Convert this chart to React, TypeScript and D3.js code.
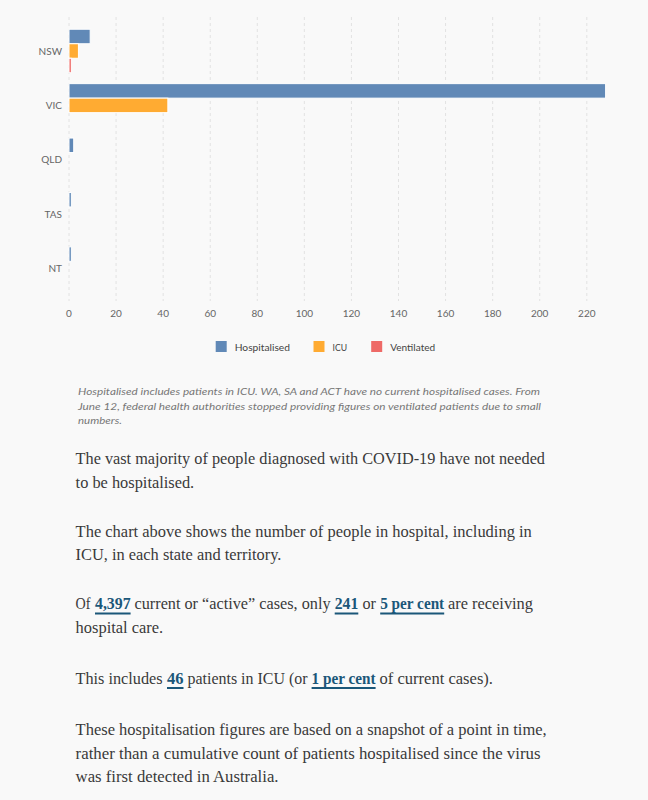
import React from "react";
import * as d3 from "d3";

const states = ["NSW", "VIC", "QLD", "TAS", "NT"];
const seriesNames = ["Hospitalised", "ICU", "Ventilated"];
const hospitalised = [9, 228, 2, 1, 1];
const icu = [4, 42, 0, 0, 0];
const ventilated = [1, 0, 0, 0, 0];
const seriesColors = ["#6189b7", "#ffab32", "#ee6a67"];
const xTicks = [0, 20, 40, 60, 80, 100, 120, 140, 160, 180, 200, 220];

const footnoteLines = [
  "Hospitalised includes patients in ICU. WA, SA and ACT have no current hospitalised cases. From",
  "June 12, federal health authorities stopped providing figures on ventilated patients due to small",
  "numbers.",
];
const footnoteWidths = [462, 463, 44];

type Seg = { t: string; link?: boolean; x0: number; x1: number };
type Line = { y: number; segs: Seg[] };

const bodyLines: Line[] = [
  { y: 464, segs: [{ t: "The vast majority of people diagnosed with COVID-19 have not needed", x0: 75.6, x1: 545 }] },
  { y: 487.5, segs: [{ t: "to be hospitalised.", x0: 75.6, x1: 194.2 }] },
  { y: 536.5, segs: [{ t: "The chart above shows the number of people in hospital, including in", x0: 75.6, x1: 531.8 }] },
  { y: 560, segs: [{ t: "ICU, in each state and territory.", x0: 75.6, x1: 281.4 }] },
  {
    y: 609,
    segs: [
      { t: "Of", x0: 75.6, x1: 90.5 },
      { t: "4,397", link: true, x0: 95, x1: 130.6 },
      { t: "current or \u201Cactive\u201D cases, only", x0: 134.5, x1: 330.5 },
      { t: "241", link: true, x0: 334.7, x1: 358.3 },
      { t: "or", x0: 362.5, x1: 376 },
      { t: "5 per cent", link: true, x0: 380.2, x1: 444.2 },
      { t: "are receiving", x0: 448, x1: 533 },
    ],
  },
  { y: 632.5, segs: [{ t: "hospital care.", x0: 75.6, x1: 163.2 }] },
  {
    y: 683.5,
    segs: [
      { t: "This includes", x0: 75.6, x1: 162.5 },
      { t: "46", link: true, x0: 167, x1: 183.5 },
      { t: "patients in ICU (or", x0: 187.5, x1: 307.5 },
      { t: "1 per cent", link: true, x0: 311.6, x1: 375.6 },
      { t: "of current cases).", x0: 379.5, x1: 493 },
    ],
  },
  { y: 735, segs: [{ t: "These hospitalisation figures are based on a snapshot of a point in time,", x0: 75.6, x1: 546.7 }] },
  { y: 758.5, segs: [{ t: "rather than a cumulative count of patients hospitalised since the virus", x0: 75.6, x1: 540.5 }] },
  { y: 782, segs: [{ t: "was first detected in Australia.", x0: 75.6, x1: 278.5 }] },
];

export default function App() {
  const W = 648;
  const H = 800;
  const values = [hospitalised, icu, ventilated];

  const x = d3.scaleLinear().domain([0, 228]).range([69, 69 + 228 * 2.3536]);
  const y = d3.scaleBand<string>().domain(states).range([23.8, 295.8]).paddingInner(0.2).paddingOuter(0.1);
  const ySub = d3.scaleBand<string>().domain(seriesNames).range([0, y.bandwidth()]);

  const sans = "Lato, 'Noto Sans', sans-serif";
  const serif = "'Liberation Serif', 'DejaVu Serif', serif";

  const legendX = [215.7, 313.5, 371.2];
  const legendTextW = [55.3, 14.5, 45];

  return (
    <svg width={W} height={H} style={{ position: "absolute", left: 0, top: 0, display: "block" }}>
      <rect x={0} y={0} width={W} height={H} fill="#f9f9f9" />
      {/* gridlines */}
      {xTicks.map((t) => (
        <line key={"g" + t} x1={x(t)} x2={x(t)} y1={17} y2={301} stroke="#e2e2e2" strokeWidth={1} strokeDasharray="3,3" />
      ))}
      {/* bars */}
      {states.map((s, i) =>
        seriesNames.map((n, j) => {
          const v = values[j][i];
          if (!v) return null;
          return (
            <rect
              key={s + n}
              x={x(0)}
              y={(y(s) as number) + (ySub(n) as number)}
              width={x(v) - x(0)}
              height={ySub.bandwidth()}
              fill={seriesColors[j]}
              stroke="#ffffff"
              strokeWidth={1}
            />
          );
        })
      )}
      {/* y labels */}
      {states.map((s) => (
        <text
          key={"yl" + s}
          x={62}
          y={(y(s) as number) + y.bandwidth() / 2 + 3.5}
          textAnchor="end"
          fontFamily={sans}
          fontSize={10}
          fill="#666"
        >
          {s}
        </text>
      ))}
      {/* x tick labels */}
      {xTicks.map((t) => (
        <text key={"xl" + t} x={x(t)} y={316.5} textAnchor="middle" fontFamily={sans} fontSize={10} fill="#666">
          {t}
        </text>
      ))}
      {/* legend */}
      {seriesNames.map((n, j) => (
        <g key={"lg" + n}>
          <rect x={legendX[j]} y={341} width={11} height={11} fill={seriesColors[j]} />
          <text
            x={legendX[j] + 19}
            y={350.5}
            fontFamily={sans}
            fontSize={10}
            fill="#444"
            textLength={legendTextW[j]}
            lengthAdjust="spacingAndGlyphs"
          >
            {n}
          </text>
        </g>
      ))}
      {/* footnote */}
      {footnoteLines.map((l, i) => (
        <text
          key={"fn" + i}
          x={78}
          y={395 + i * 14.5}
          fontFamily={sans}
          fontStyle="italic"
          fontSize={10}
          fill="#777"
          textLength={footnoteWidths[i]}
          lengthAdjust="spacingAndGlyphs"
        >
          {l}
        </text>
      ))}
      {/* body text */}
      {bodyLines.map((line, li) =>
        line.segs.map((sg, si) => (
          <g key={"b" + li + "_" + si}>
            <text
              x={sg.x0}
              y={line.y}
              fontFamily={serif}
              fontSize={16}
              fill={sg.link ? "#1b5779" : "#3a3a3a"}
              fontWeight={sg.link ? 700 : 400}
              textLength={sg.x1 - sg.x0}
              lengthAdjust="spacingAndGlyphs"
            >
              {sg.t}
            </text>
            {sg.link ? (
              <rect x={sg.x0} y={line.y + 3.5} width={sg.x1 - sg.x0} height={2} fill="#1b5779" />
            ) : null}
          </g>
        ))
      )}
    </svg>
  );
}
